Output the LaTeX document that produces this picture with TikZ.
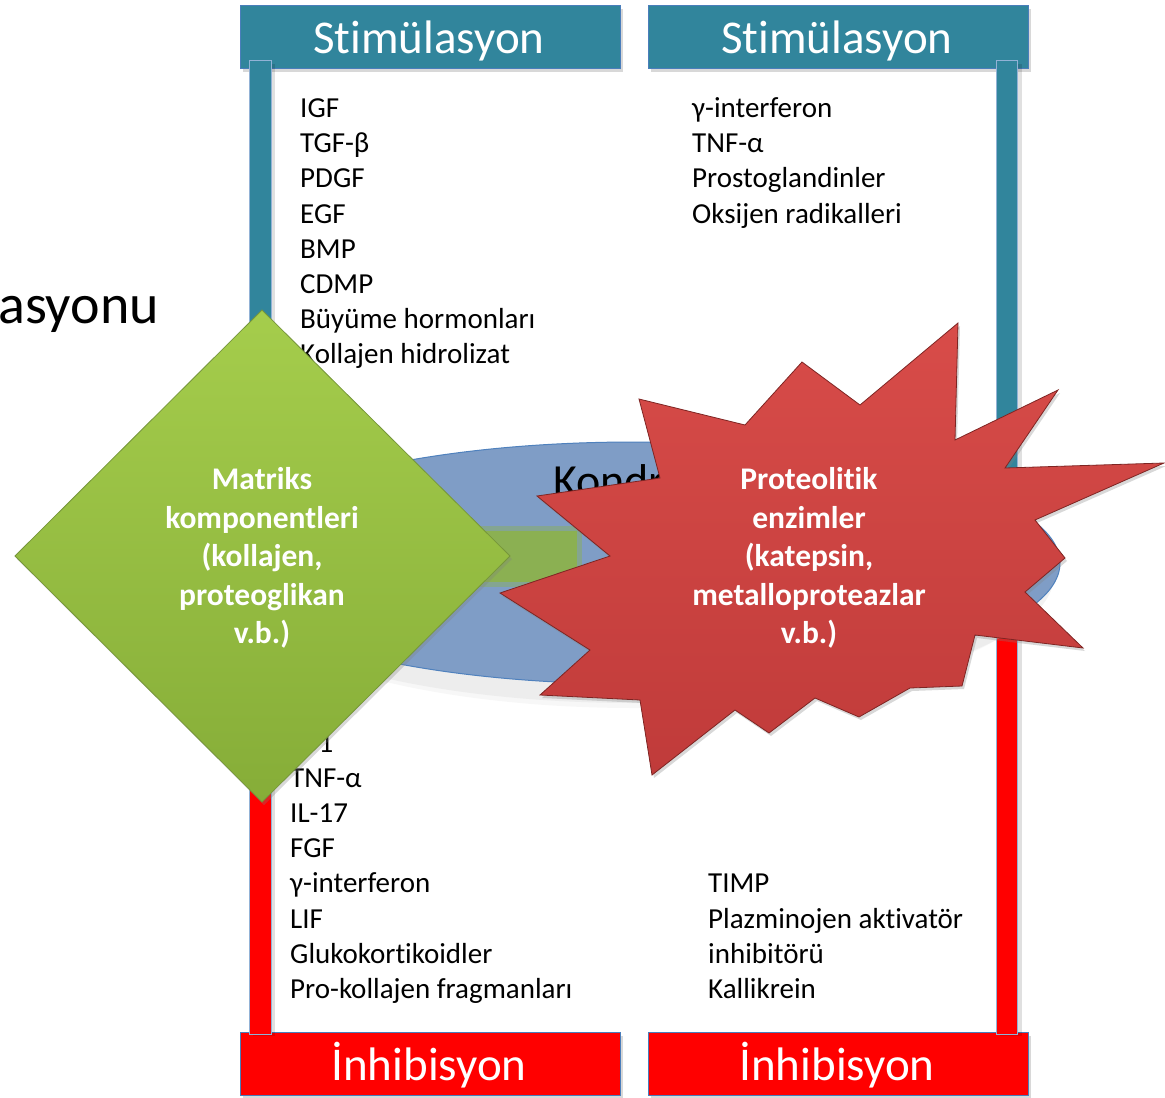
\documentclass[tikz,border=0pt]{standalone}
\usepackage{fontspec}
\setmainfont{Carlito}[Ligatures={NoCommon,NoContextual}]
\usetikzlibrary{shadows}
\definecolor{tealhdr}{HTML}{31859C}
\definecolor{hdrline}{HTML}{4A7EBB}
\definecolor{redhdr}{HTML}{FF0000}
\definecolor{ellfill}{HTML}{7F9DC6}
\definecolor{ellline}{HTML}{4F81BD}
\definecolor{greenlight}{HTML}{A5CD4C}
\definecolor{greendark}{HTML}{86AD38}
\definecolor{greenline}{HTML}{76963A}
\definecolor{greenrect}{HTML}{8DB343}
\definecolor{starlight}{HTML}{D84C49}
\definecolor{stardark}{HTML}{C03B3A}
\definecolor{starline}{HTML}{7E2523}
\newcommand{\nl}{\kern0pt}
\begin{document}
\begin{tikzpicture}[x=1pt,y=-1pt,
  hdrbox/.style={draw=hdrline, line width=1pt, anchor=north west,
    minimum width=380pt, minimum height=63pt, inner sep=0pt,
    drop shadow={shadow xshift=2pt, shadow yshift=-3pt, opacity=0.3}},
  barline/.style={draw=hdrline!60, line width=0.8pt},
  hdrtxt/.style={anchor=base, inner sep=0pt, text=white,
    font=\fontsize{47}{56}\selectfont},
  listtxt/.style={anchor=base west, inner sep=0pt,
    font=\fontsize{29}{35.2}\selectfont},
  boldtxt/.style={text=white, align=center, inner sep=0pt,
    font=\bfseries\fontsize{31.5}{38.5}\selectfont},
  bigblack/.style={anchor=base west, inner sep=0pt}]
\useasboundingbox (0,0) rectangle (1165,1098);
\fill[white] (0,0) rectangle (1165,1098);

% headers
\node[hdrbox, fill=tealhdr] (hTL) at (240,5) {};
\node[hdrbox, fill=tealhdr] (hTR) at (648,5) {};
\node[hdrbox, fill=redhdr] (hBL) at (240,1032) {};
\node[hdrbox, fill=redhdr] (hBR) at (648,1032) {};

% vertical bars
\fill[black, opacity=0.12] (253,64) rectangle (275,1036);
\fill[black, opacity=0.12] (1000,64) rectangle (1022,1036);
\path[barline, fill=tealhdr] (249,60) rectangle (271,550);
\path[barline, fill=redhdr] (249,550) rectangle (271,1034);
\path[barline, fill=tealhdr] (996,60) rectangle (1017,550);
\path[barline, fill=redhdr] (996,550) rectangle (1017,1034);

\node[hdrtxt] (tTL) at (429,53) {St\nl imülasyon};
\node[hdrtxt] (tTR) at (837,53) {St\nl imülasyon};
\node[hdrtxt] (tBL) at (429,1080) {İnhibisyon};
\node[hdrtxt] (tBR) at (837,1080) {İnhibisyon};

% partially visible title text
\node[bigblack, font=\fontsize{56}{60}\selectfont] (asy) at (-2,323) {asyonu};

% top-left list
\node[listtxt] (s1) at (300,117.5) {IGF};
\node[listtxt] (s2) at (300,152.7) {TGF-β};
\node[listtxt] (s3) at (300,187.9) {PDGF};
\node[listtxt] (s4) at (300,223.1) {EGF};
\node[listtxt] (s5) at (300,258.3) {BMP};
\node[listtxt] (s6) at (300,293.5) {CDMP};
\node[listtxt] (s7) at (300,328.7) {Büyüme hormonları};
\node[listtxt] (s8) at (300,363.9) {Kollajen hidrolizat};

% top-right list
\node[listtxt] (r1) at (692,117.5) {γ-interferon};
\node[listtxt] (r2) at (692,152.7) {TNF-α};
\node[listtxt] (r3) at (692,187.9) {Prostoglandinler};
\node[listtxt] (r4) at (692,223.1) {Oksijen radikalleri};

% bottom-left list
\node[listtxt] (b1) at (290,752) {IL-1};
\node[listtxt] (b2) at (290,787.2) {TNF-α};
\node[listtxt] (b3) at (290,822.4) {IL-17};
\node[listtxt] (b4) at (290,857.6) {FGF};
\node[listtxt] (b5) at (290,892.8) {γ-interferon};
\node[listtxt] (b6) at (290,928) {LIF};
\node[listtxt] (b7) at (290,963.2) {Glukokort\nl ikoidler};
\node[listtxt] (b8) at (290,998.4) {Pro-kollajen fragmanları};

% bottom-right list
\node[listtxt] (c1) at (708,892.8) {TIMP};
\node[listtxt] (c2) at (708,928) {Plazminojen akt\nl ivatör};
\node[listtxt] (c3) at (708,963.2) {inhibitörü};
\node[listtxt] (c4) at (708,998.4) {Kallikrein};

% ellipse (cell) with soft reflection
\fill[black!25, opacity=0.2] (634,575) ellipse [x radius=420pt, y radius=128pt];
\fill[black!15, opacity=0.2] (634,580) ellipse [x radius=410pt, y radius=128pt];
\path[draw=ellline, line width=1pt, fill=ellfill] (634,563) ellipse [x radius=426pt, y radius=121pt];
\node[bigblack, font=\fontsize{46}{52}\selectfont] (kond) at (553,496) {Kondr};

% blurred green bar inside the ellipse
\fill[greenrect, opacity=0.4] (478,526) rectangle (582,587);
\fill[greenrect, opacity=0.8] (483,531) rectangle (577,582);

% diamond
\shade[top color=greenlight, bottom color=greendark, draw=greenline, line width=0.8pt,
  drop shadow={shadow xshift=2pt, shadow yshift=-3pt, opacity=0.3}]
  (262,310) -- (510,556) -- (262,802) -- (15,556) -- cycle;
\node[boldtxt] (mat) at (262,558) {Matriks\\komponentleri\\(kollajen,\\proteoglikan\\v.b.)};

% explosion
\shade[top color=starlight, bottom color=stardark, draw=starline, line width=0.8pt,
  drop shadow={shadow xshift=2pt, shadow yshift=-3pt, opacity=0.3}]
  (500,593) -- (610,556) -- (537,496) -- (660,478) -- (639,399) -- (745,425)
  -- (802,362) -- (860,405) -- (958,323) -- (955,440) -- (1058,390) -- (1005,468)
  -- (1164,463) -- (1035,520) -- (1065,558) -- (1025,592) -- (1083,648) -- (975,635)
  -- (962,686) -- (910,688) -- (859,717) -- (815,698) -- (769,733) -- (735,710)
  -- (652,775) -- (640,700) -- (540,695) -- (590,650) -- cycle;
\node[boldtxt] (prot) at (809,558) {Proteolit\nl ik\\enzimler\\(katepsin,\\metalloproteazlar\\v.b.)};
\end{tikzpicture}
\end{document}
